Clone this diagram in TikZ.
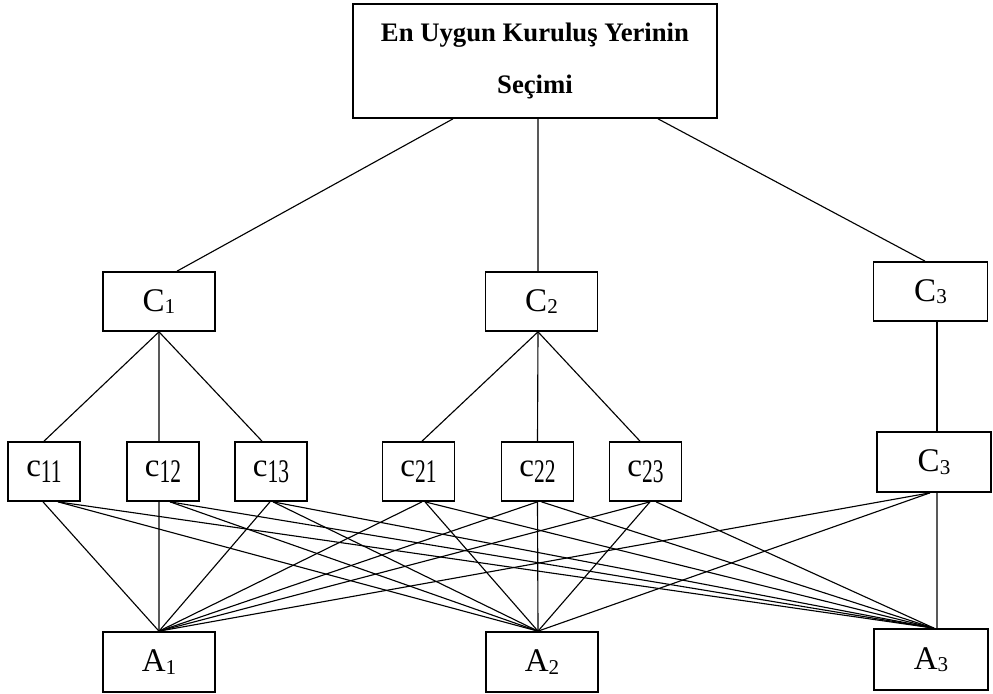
\documentclass[tikz,border=0pt]{standalone}
\usepackage{graphicx}
\usepackage{fontspec}
\setmainfont{Liberation Serif}

\newcommand{\capidx}[1]{\raisebox{-1.8pt}{\fontsize{15}{15}\selectfont #1}}
\newcommand{\lowidx}[1]{\raisebox{-4.3pt}{\scalebox{0.65}[1]{#1}}}

\tikzset{
  box/.style={draw, line width=1.2pt, inner sep=0pt, font=\fontsize{23.5}{23.5}\selectfont},
  crit/.style={box, minimum width=2.8cm, minimum height=1.475cm},
  sub/.style={box, minimum width=1.8cm, minimum height=1.475cm},
  alt/.style={box, minimum width=2.8cm, minimum height=1.5cm},
  link/.style={line width=0.8pt}
}

\begin{document}
\begin{tikzpicture}
    \useasboundingbox (0,0) rectangle (24.825cm,-17.35cm);
    % goal
    \node[box, minimum width=9.1cm, minimum height=2.85cm, align=center,
          font=\bfseries\fontsize{19}{37}\selectfont] (goal) at (13.375cm,-1.525cm)
          {En Uygun Kuruluş Yerinin\\Seçimi};
    % criteria
    \node[crit] (C1) at (3.975cm,-7.5375cm) {C\capidx{1}};
    \node[crit] (C2) at (13.5375cm,-7.5375cm) {C\capidx{2}};
    \node[crit, minimum width=2.85cm] (C3) at (23.2625cm,-7.2875cm) {C\capidx{3}};
    % sub-criteria
    \node[sub] (c11) at (1.1cm,-11.7875cm) {c\lowidx{11}};
    \node[sub] (c12) at (4.075cm,-11.7875cm) {c\lowidx{12}};
    \node[sub] (c13) at (6.775cm,-11.7875cm) {c\lowidx{13}};
    \node[sub] (c21) at (10.4625cm,-11.7875cm) {c\lowidx{21}};
    \node[sub] (c22) at (13.4375cm,-11.7875cm) {c\lowidx{22}};
    \node[sub] (c23) at (16.1375cm,-11.7875cm) {c\lowidx{23}};
    \node[crit, minimum width=2.85cm, minimum height=1.5cm] (C3s) at (23.35cm,-11.55cm) {C\capidx{3}};
    % alternatives
    \node[alt] (A1) at (3.975cm,-16.55cm) {A\capidx{1}};
    \node[alt] (A2) at (13.55cm,-16.55cm) {A\capidx{2}};
    \node[alt, minimum width=2.85cm, minimum height=1.525cm] (A3) at (23.275cm,-16.4875cm) {A\capidx{3}};

    \draw[link] ([xshift=-2.05cm]goal.south) -- ([xshift=0.45cm]C1.north);
    \draw[link] ([xshift=0.075cm]goal.south) -- ([xshift=-0.0875cm]C2.north);
    \draw[link] ([xshift=3.075cm]goal.south) -- ([xshift=-0.1375cm]C3.north);

    \draw[link] (C1.south) -- (c11.north);
    \draw[link] (C1.south) -- ([xshift=-0.1cm]c12.north);
    \draw[link] (C1.south) -- ([xshift=-0.225cm]c13.north);
    \draw[link] ([xshift=-0.0875cm]C2.south) -- ([xshift=0.0875cm]c21.north);
    \draw[link] ([xshift=-0.0875cm]C2.south) -- (c22.north);
    \draw[link] ([xshift=-0.0875cm]C2.south) -- ([xshift=-0.1375cm]c23.north);
    \draw[link] ([xshift=0.1625cm]C3.south) -- ([xshift=0.075cm]C3s.north);

    \coordinate (A1-in) at (A1.north);
    \coordinate (A2-in) at ([xshift=-0.1cm]A2.north);
    \coordinate (A3-in) at ([xshift=0.075cm]A3.north);
    \foreach \from/\dx/\to in {c11/-0.025/A1, c11/0.35/A2, c11/0.35/A3,
                               c12/-0.1/A1, c12/0.175/A2, c12/0.175/A3,
                               c13/-0.025/A1, c13/0.05/A2, c13/0.05/A3,
                               c21/0.0875/A1, c21/0.1625/A2, c21/0.1625/A3,
                               c22/0/A1, c22/0/A2, c22/0.1/A3,
                               c23/0.1125/A1, c23/0.1125/A2, c23/0.2625/A3,
                               C3s/-0.1/A1, C3s/-0.1/A2}
        \draw[link] ([xshift=\dx cm]\from.south) -- (\to-in);
    \draw[link] ([xshift=0.075cm]C3s.south) -- ([xshift=0.15cm]A3.north);
\end{tikzpicture}
\end{document}
